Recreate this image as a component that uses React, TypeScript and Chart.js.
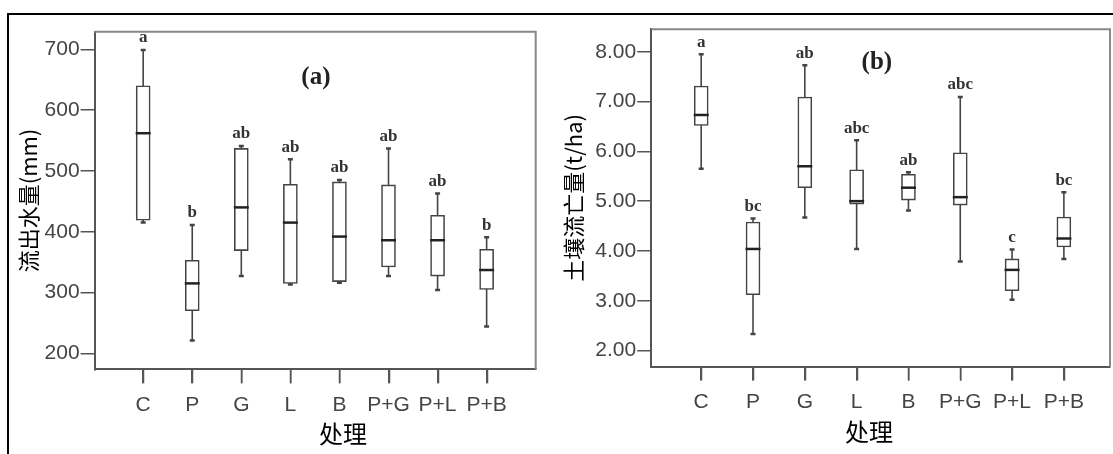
import React, { useEffect, useRef } from 'react';
import { Chart, registerables } from 'chart.js';
Chart.register(...registerables);

// ---------- data ----------
const categories = ['C', 'P', 'G', 'L', 'B', 'P+G', 'P+L', 'P+B'];

// (a) 流出水量 (mm)
const runoffMin = [415, 221, 327, 313, 316, 327, 304, 244];
const runoffQ1 = [419, 270, 369, 315, 318, 342, 327, 305];
const runoffMedian = [562, 315, 440, 415, 392, 386, 386, 337];
const runoffQ3 = [640, 353, 537, 478, 482, 477, 427, 371];
const runoffMax = [699, 411, 541, 519, 485, 537, 463, 391];
const runoffLetters = ['a', 'b', 'ab', 'ab', 'ab', 'ab', 'ab', 'b'];
const runoffTicks = [200, 300, 400, 500, 600, 700];

// (b) 土壤流亡量 (t/ha)
const soilMin = [5.65, 2.33, 4.67, 4.04, 4.81, 3.79, 3.02, 3.84];
const soilQ1 = [6.52, 3.12, 5.27, 4.94, 5.02, 4.92, 3.2, 4.08];
const soilMedian = [6.73, 4.04, 5.7, 5.0, 5.27, 5.08, 3.62, 4.25];
const soilQ3 = [7.31, 4.58, 7.09, 5.63, 5.54, 5.97, 3.84, 4.68];
const soilMax = [7.95, 4.65, 7.73, 6.22, 5.58, 7.09, 4.03, 5.18];
const soilLetters = ['a', 'bc', 'ab', 'abc', 'ab', 'abc', 'c', 'bc'];
const soilTicks = [2, 3, 4, 5, 6, 7, 8];

const categoryTicks = [0, 1, 2, 3, 4, 5, 6, 7];

const TICK_FONT = { family: '"Liberation Sans", Arial, sans-serif', size: 21 };
const TICK_COLOR = '#444';
const AXIS_COLOR = '#555';

type PanelCfg = {
  width: number;
  height: number;
  padTop: number;
  padRight: number;
  yAxisWidth: number;
  xAxisHeight: number;
  xMin: number;
  xMax: number;
  yMin: number;
  yMax: number;
  yTicks: number[];
  yDecimals: number;
  yTitle: string;
  yTitlePad: number;
  mins: number[];
  q1: number[];
  medians: number[];
  q3: number[];
  maxs: number[];
  letters: string[];
  panelLabel: string;
  panelLabelX: number;
  panelLabelY: number;
  xTitleX: number;
  xTitleY: number;
};

function makeBoxPlugin(cfg: PanelCfg) {
  return {
    id: 'boxExtras',
    beforeDatasetsDraw(chart: any) {
      const ctx = chart.ctx;
      const xs = chart.scales.x;
      const ys = chart.scales.y;
      ctx.save();
      ctx.strokeStyle = '#444';
      categories.forEach((_, i) => {
        const x = xs.getPixelForValue(i);
        const yMin = ys.getPixelForValue(cfg.mins[i]);
        const yMax = ys.getPixelForValue(cfg.maxs[i]);
        ctx.lineWidth = 1.6;
        ctx.beginPath();
        ctx.moveTo(x, yMin);
        ctx.lineTo(x, yMax);
        ctx.stroke();
        ctx.lineWidth = 2.5;
        ctx.beginPath();
        ctx.moveTo(x - 2.5, yMin);
        ctx.lineTo(x + 2.5, yMin);
        ctx.moveTo(x - 2.5, yMax);
        ctx.lineTo(x + 2.5, yMax);
        ctx.stroke();
      });
      ctx.restore();
    },
    afterDatasetsDraw(chart: any) {
      const ctx = chart.ctx;
      const xs = chart.scales.x;
      const ys = chart.scales.y;
      const area = chart.chartArea;
      ctx.save();
      // medians
      ctx.strokeStyle = '#222';
      ctx.lineWidth = 2.5;
      categories.forEach((_, i) => {
        const x = xs.getPixelForValue(i);
        const y = ys.getPixelForValue(cfg.medians[i]);
        ctx.beginPath();
        ctx.moveTo(x - 7.5, y);
        ctx.lineTo(x + 7.5, y);
        ctx.stroke();
      });
      // significance letters
      ctx.fillStyle = '#333';
      ctx.font = 'bold 17px "Liberation Serif", "Times New Roman", serif';
      ctx.textAlign = 'center';
      ctx.textBaseline = 'middle';
      categories.forEach((_, i) => {
        const x = xs.getPixelForValue(i);
        const y = ys.getPixelForValue(cfg.maxs[i]);
        ctx.fillText(cfg.letters[i], x, y - 12);
      });
      // panel label
      ctx.fillStyle = '#222';
      ctx.font = 'bold 25px "Liberation Serif", "Times New Roman", serif';
      ctx.fillText(cfg.panelLabel, xs.getPixelForValue(cfg.panelLabelX), ys.getPixelForValue(cfg.panelLabelY));
      // top & right frame of plot area
      ctx.strokeStyle = '#888';
      ctx.lineWidth = 2;
      ctx.beginPath();
      ctx.moveTo(area.left, area.top);
      ctx.lineTo(area.right, area.top);
      ctx.lineTo(area.right, area.bottom);
      ctx.stroke();
      // category tick marks under the x axis
      ctx.strokeStyle = AXIS_COLOR;
      ctx.lineWidth = 1.5;
      categoryTicks.forEach((v) => {
        const x = Math.round(xs.getPixelForValue(v)) + 0.5;
        ctx.beginPath();
        ctx.moveTo(x, area.bottom);
        ctx.lineTo(x, area.bottom + 14);
        ctx.stroke();
      });
      // x-axis title
      ctx.fillStyle = '#000';
      ctx.font = '24px "Noto Sans CJK SC", sans-serif';
      ctx.fillText('处理', cfg.xTitleX, cfg.xTitleY);
      ctx.restore();
    },
  };
}

function buildChart(canvas: HTMLCanvasElement, cfg: PanelCfg) {
  return new Chart(canvas, {
    type: 'bar',
    data: {
      datasets: [
        {
          data: categories.map((_, i) => ({ x: i, y: [cfg.q1[i], cfg.q3[i]] })) as any,
          backgroundColor: '#ffffff',
          borderColor: '#444',
          borderWidth: 1.6,
          borderSkipped: false,
          barThickness: 14,
          grouped: false,
        } as any,
      ],
    },
    options: {
      responsive: false,
      animation: false,
      devicePixelRatio: 1,
      layout: { padding: { left: 0, top: cfg.padTop, right: cfg.padRight, bottom: 0 } },
      plugins: { legend: { display: false }, tooltip: { enabled: false } },
      scales: {
        x: {
          type: 'linear',
          offset: false,
          min: cfg.xMin,
          max: cfg.xMax,
          afterBuildTicks: (axis: any) => {
            axis.ticks = categoryTicks.map((v) => ({ value: v }));
          },
          afterFit: (axis: any) => {
            axis.height = cfg.xAxisHeight;
          },
          ticks: {
            autoSkip: false,
            maxRotation: 0,
            color: TICK_COLOR,
            font: TICK_FONT,
            padding: 9,
            callback: (v: any) => categories[Number(v)] ?? '',
          },
          grid: {
            offset: false,
            drawOnChartArea: false,
            drawTicks: true,
            tickLength: 14,
            color: AXIS_COLOR,
            lineWidth: 1.5,
          },
          border: { display: true, color: AXIS_COLOR, width: 2 },
        },
        y: {
          type: 'linear',
          min: cfg.yMin,
          max: cfg.yMax,
          afterBuildTicks: (axis: any) => {
            axis.ticks = cfg.yTicks.map((v) => ({ value: v }));
          },
          afterFit: (axis: any) => {
            axis.width = cfg.yAxisWidth;
          },
          ticks: {
            color: TICK_COLOR,
            font: TICK_FONT,
            padding: 1,
            callback: (v: any) => Number(v).toFixed(cfg.yDecimals),
          },
          grid: { drawOnChartArea: false, drawTicks: true, tickLength: 14, color: AXIS_COLOR, lineWidth: 1.5 },
          border: { display: true, color: AXIS_COLOR, width: 2 },
          title: {
            display: true,
            text: cfg.yTitle,
            color: '#000',
            font: { family: '"Noto Sans CJK SC", sans-serif', size: 22 },
            padding: { top: cfg.yTitlePad, bottom: 0 },
          },
        },
      },
    } as any,
    plugins: [makeBoxPlugin(cfg)],
  });
}

const panelA: PanelCfg = {
  width: 556,
  height: 454,
  padTop: 31.7,
  padRight: 20.3,
  yAxisWidth: 94.6,
  xAxisHeight: 84.7,
  xMin: -0.99,
  xMax: 8.0,
  yMin: 173.7,
  yMax: 729,
  yTicks: runoffTicks,
  yDecimals: 0,
  yTitle: '流出水量(mm)',
  yTitlePad: 15,
  mins: runoffMin,
  q1: runoffQ1,
  medians: runoffMedian,
  q3: runoffQ3,
  maxs: runoffMax,
  letters: runoffLetters,
  panelLabel: '(a)',
  panelLabelX: 3.52,
  panelLabelY: 653,
  xTitleX: 343,
  xTitleY: 434,
};

const panelB: PanelCfg = {
  width: 557,
  height: 454,
  padTop: 29.3,
  padRight: 3,
  yAxisWidth: 95.2,
  xAxisHeight: 87.5,
  xMin: -0.965,
  xMax: 7.89,
  yMin: 1.68,
  yMax: 8.45,
  yTicks: soilTicks,
  yDecimals: 2,
  yTitle: '土壤流亡量(t/ha)',
  yTitlePad: 4,
  mins: soilMin,
  q1: soilQ1,
  medians: soilMedian,
  q3: soilQ3,
  maxs: soilMax,
  letters: soilLetters,
  panelLabel: '(b)',
  panelLabelX: 3.39,
  panelLabelY: 7.79,
  xTitleX: 313,
  xTitleY: 432,
};

export default function App() {
  const refA = useRef<HTMLCanvasElement>(null);
  const refB = useRef<HTMLCanvasElement>(null);

  useEffect(() => {
    const a = buildChart(refA.current!, panelA);
    const b = buildChart(refB.current!, panelB);
    return () => {
      a.destroy();
      b.destroy();
    };
  }, []);

  return (
    <div
      style={{
        position: 'fixed',
        left: 0,
        top: 0,
        width: 1113,
        height: 454,
        overflow: 'hidden',
        background: '#fff',
      }}
    >
      <div
        style={{
          position: 'absolute',
          left: 7,
          top: 13,
          width: 1300,
          height: 700,
          border: '2px solid #000',
          boxSizing: 'border-box',
        }}
      />
      <canvas
        ref={refA}
        width={panelA.width}
        height={panelA.height}
        style={{ position: 'absolute', left: 0, top: 0, width: panelA.width, height: panelA.height }}
      />
      <canvas
        ref={refB}
        width={panelB.width}
        height={panelB.height}
        style={{ position: 'absolute', left: 556, top: 0, width: panelB.width, height: panelB.height }}
      />
    </div>
  );
}
